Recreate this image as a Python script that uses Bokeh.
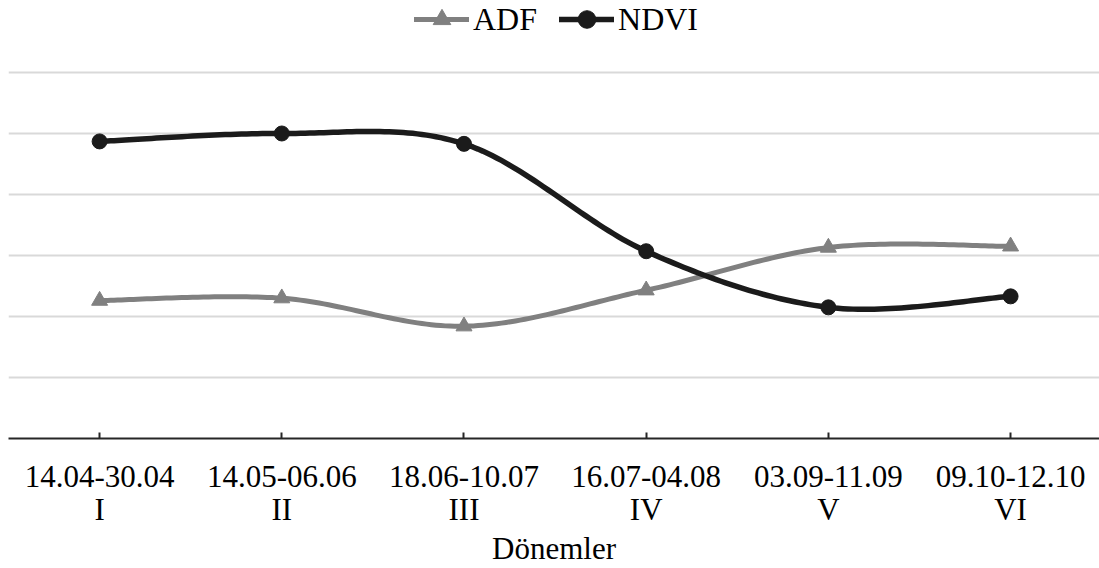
import numpy as np
from bokeh.plotting import figure
from bokeh.models import (ColumnDataSource, FixedTicker, Legend, LegendItem, Range1d)
from bokeh.embed import file_html
from bokeh.resources import INLINE

# Periods (date window + roman numeral) and the two index series
periods = ["14.04-30.04", "14.05-06.06", "18.06-10.07", "16.07-04.08", "03.09-11.09", "09.10-12.10"]
roman = ["I", "II", "III", "IV", "V", "VI"]
adf = [0.226, 0.230, 0.184, 0.243, 0.313, 0.315]
ndvi = [0.487, 0.500, 0.483, 0.307, 0.215, 0.233]
grid_values = [0.1, 0.2, 0.3, 0.4, 0.5, 0.6]

FONT = "Liberation Serif"
BLACK = "#1b1b1b"
GREY = "#808080"


def smooth(xs, ys, steps=40):
    """Cubic Bezier smoothing through every point (control arms = 1/6 of neighbour chord)."""
    pts = np.column_stack([xs, ys]).astype(float)
    n = len(pts)
    out = [pts[0]]
    for i in range(n - 1):
        p0 = pts[i - 1] if i > 0 else pts[i]
        p1 = pts[i]
        p2 = pts[i + 1]
        p3 = pts[i + 2] if i + 2 < n else pts[i + 1]
        c1 = p1 + (p2 - p0) / 6.0
        c2 = p2 - (p3 - p1) / 6.0
        t = np.linspace(0, 1, steps)[1:, None]
        seg = ((1 - t) ** 3) * p1 + 3 * ((1 - t) ** 2) * t * c1 + 3 * (1 - t) * t ** 2 * c2 + t ** 3 * p2
        out.extend(seg)
    out = np.array(out)
    return out[:, 0], out[:, 1]


x = list(range(len(periods)))
adf_sx, adf_sy = smooth(x, adf)
ndvi_sx, ndvi_sy = smooth(x, ndvi)

p = figure(width=1099, height=568, output_backend="svg", toolbar_location=None,
           x_range=Range1d(-0.5, 5.488), y_range=Range1d(0, 0.718),
           min_border_left=8, min_border_right=0, min_border_top=0, min_border_bottom=130)
p.outline_line_color = None
p.background_fill_color = "white"
p.border_fill_color = "white"

# Horizontal gridlines only
p.xgrid.visible = False
p.yaxis.visible = False
p.yaxis.ticker = FixedTicker(ticks=grid_values)
p.ygrid.ticker = FixedTicker(ticks=grid_values)
p.ygrid.grid_line_color = "#d9d9d9"
p.ygrid.grid_line_width = 2

# Category axis with two-line labels
xa = p.xaxis[0]
xa.ticker = FixedTicker(ticks=x)
xa.major_label_overrides = {i: f"{periods[i]}\n{roman[i]}" for i in x}
xa.minor_tick_line_color = None
xa.major_tick_in = 6
xa.major_tick_out = 0
xa.major_tick_line_color = "#262626"
xa.major_tick_line_width = 2
xa.axis_line_color = "#262626"
xa.axis_line_width = 2
xa.major_label_text_font = FONT
xa.major_label_text_font_size = "31px"
xa.major_label_text_line_height = 0.95
xa.major_label_text_color = "black"
xa.major_label_standoff = 20
xa.axis_label = "Dönemler"
xa.axis_label_text_font = FONT
xa.axis_label_text_font_size = "31px"
xa.axis_label_text_font_style = "normal"
xa.axis_label_text_color = "black"
xa.axis_label_standoff = 1

adf_src = ColumnDataSource(dict(x=x, y=adf))
ndvi_src = ColumnDataSource(dict(x=x, y=ndvi))

adf_line = p.line(adf_sx, adf_sy, line_color=GREY, line_width=5, line_cap="round", line_join="round")
adf_pts = p.scatter("x", "y", source=adf_src, marker="triangle", size=16,
                    fill_color=GREY, line_color=GREY)
ndvi_line = p.line(ndvi_sx, ndvi_sy, line_color=BLACK, line_width=5.5, line_cap="round", line_join="round")
ndvi_pts = p.scatter("x", "y", source=ndvi_src, marker="circle", size=15,
                     fill_color=BLACK, line_color=BLACK)

# Legend sits above the plotting area, centred over the chart
legend = Legend(items=[LegendItem(label="ADF", renderers=[adf_line, adf_pts]),
                       LegendItem(label="NDVI", renderers=[ndvi_line, ndvi_pts])],
                location=(406, 397), orientation="horizontal",
                label_text_font=FONT, label_text_font_size="32px", label_text_color="black",
                glyph_width=55, glyph_height=44, label_standoff=4, spacing=22,
                padding=0, margin=0, border_line_color=None, background_fill_alpha=0)
p.add_layout(legend, "center")

open("out.html", "w").write(file_html(p, INLINE))
